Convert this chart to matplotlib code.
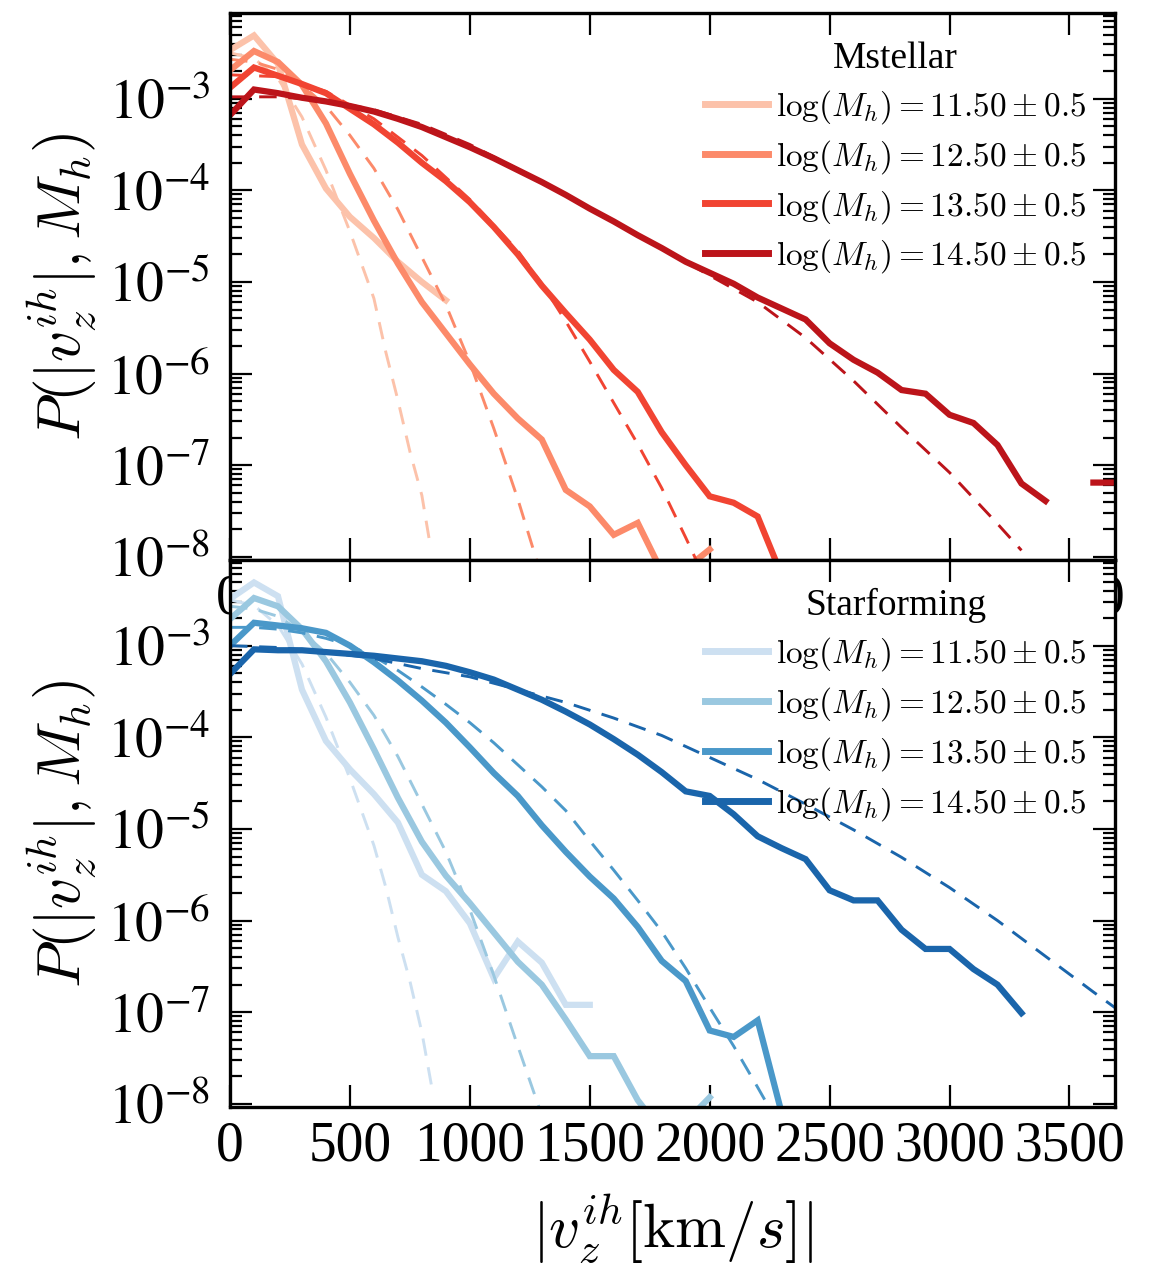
import numpy as np
import matplotlib
matplotlib.use('Agg')
import matplotlib.pyplot as plt
import matplotlib.ticker as ticker

plt.rcParams['font.family'] = ['Liberation Serif', 'DejaVu Serif']
plt.rcParams['mathtext.fontset'] = 'stix'

# ---------------------------------------------------------------
# data: log10 P(|v_z^ih|, M_h), solid = measured, dashed = fits
# solid curves are binned every 100 km/s starting at 0
# ---------------------------------------------------------------
BIN = 100
labels = [r'$\log(M_h) = 11.50 \pm 0.5$', r'$\log(M_h) = 12.50 \pm 0.5$',
          r'$\log(M_h) = 13.50 \pm 0.5$', r'$\log(M_h) = 14.50 \pm 0.5$']

# Mstellar panel
m115 = [-2.47, -2.31, -2.62, -3.50, -3.98, -4.29, -4.52, -4.78, -5.00, -5.20]
m125 = [-2.69, -2.48, -2.60, -2.85, -3.27, -3.82, -4.33, -4.80, -5.22, -5.56,
        -5.90, -6.22, -6.49, -6.72, -7.27, -7.45, -7.76, -7.63, -8.16, -8.13, -7.92]
m135 = [-2.88, -2.66, -2.75, -2.84, -2.94, -3.11, -3.28, -3.48, -3.70, -3.90,
        -4.13, -4.40, -4.70, -5.04, -5.34, -5.63, -5.96, -6.20, -6.64, -7.00,
        -7.34, -7.41, -7.56, -8.20]
m145 = [-3.18, -2.90, -2.94, -2.99, -3.03, -3.08, -3.14, -3.22, -3.31, -3.42,
        -3.53, -3.65, -3.78, -3.91, -4.05, -4.20, -4.34, -4.49, -4.63, -4.78,
        -4.90, -5.02, -5.17, -5.29, -5.41, -5.67, -5.85, -5.99, -6.18, -6.22,
        -6.45, -6.54, -6.78, -7.20, -7.39, np.nan, -7.19, -7.19]

md115_v = [0, 100, 200, 300, 400, 500, 600, 650, 700, 750, 800, 830]
md115 = [-2.50, -2.56, -2.78, -3.20, -3.78, -4.45, -5.18, -5.77, -6.29, -6.85, -7.33, -7.80]
md125_v = [0, 100, 200, 300, 400, 500, 600, 700, 800, 900, 1000, 1100, 1200, 1280]
md125 = [-2.57, -2.60, -2.68, -2.85, -3.08, -3.40, -3.76, -4.21, -4.73, -5.25,
         -5.88, -6.60, -7.37, -8.05]
md135_v = [0, 200, 400, 600, 800, 1000, 1200, 1300, 1400, 1500, 1600, 1700, 1800, 1900, 2000]
md135 = [-2.74, -2.76, -2.92, -3.22, -3.62, -4.10, -4.66, -5.02, -5.43, -5.87,
         -6.32, -6.77, -7.25, -7.79, -8.35]
md145_v = [0, 200, 400, 600, 800, 1000, 1200, 1400, 1600, 1800, 2000, 2200, 2400,
           2600, 2800, 3000, 3200, 3300]
md145 = [-2.98, -2.98, -3.02, -3.12, -3.28, -3.50, -3.77, -4.05, -4.34, -4.63,
         -4.93, -5.22, -5.61, -6.08, -6.59, -7.08, -7.64, -7.93]

# Starforming panel
s115 = [-2.49, -2.31, -2.46, -3.48, -4.04, -4.35, -4.62, -4.93, -5.50, -5.68,
        -6.03, -6.63, -6.23, -6.46, -6.92, -6.92]
s125 = [-2.71, -2.48, -2.57, -2.82, -3.17, -3.62, -4.13, -4.66, -5.14, -5.51,
        -5.81, -6.13, -6.45, -6.70, -7.08, -7.48, -7.48, -7.96, -8.30, -8.20, -7.93]
s135 = [-3.00, -2.75, -2.78, -2.81, -2.86, -3.00, -3.18, -3.38, -3.60, -3.84,
        -4.11, -4.39, -4.64, -4.96, -5.25, -5.52, -5.76, -6.07, -6.44, -6.66,
        -7.20, -7.27, -7.09, -8.10]
s145 = [-3.31, -3.04, -3.05, -3.05, -3.07, -3.09, -3.11, -3.14, -3.17, -3.22,
        -3.29, -3.37, -3.48, -3.59, -3.72, -3.86, -4.02, -4.19, -4.38, -4.59,
        -4.64, -4.84, -5.08, -5.21, -5.33, -5.67, -5.78, -5.78, -6.10, -6.31,
        -6.31, -6.53, -6.70, -7.01]

sd115_v = [0, 100, 200, 300, 400, 500, 600, 650, 700, 750, 800, 840]
sd115 = [-2.50, -2.56, -2.78, -3.20, -3.78, -4.45, -5.18, -5.64, -6.18, -6.66, -7.22, -7.80]
sd125_v = [0, 100, 200, 300, 400, 500, 600, 700, 800, 900, 1000, 1100, 1200, 1290]
sd125 = [-2.57, -2.60, -2.68, -2.85, -3.08, -3.40, -3.76, -4.21, -4.73, -5.25,
         -5.88, -6.60, -7.37, -8.05]
sd135_v = [0, 100, 200, 300, 400, 500, 600, 700, 800, 900, 1000, 1100, 1200, 1300,
           1400, 1500, 1600, 1700, 1800, 1900, 2000, 2100, 2200, 2250]
sd135 = [-2.80, -2.80, -2.82, -2.86, -2.92, -3.00, -3.12, -3.27, -3.45, -3.64,
         -3.84, -4.06, -4.30, -4.54, -4.80, -5.13, -5.45, -5.78, -6.12, -6.52,
         -6.95, -7.37, -7.82, -8.05]
sd145_v = [0, 200, 400, 600, 800, 1000, 1200, 1400, 1600, 1800, 2000, 2200, 2400,
           2600, 2800, 3000, 3200, 3400, 3600, 3700]
sd145 = [-3.00, -3.02, -3.07, -3.14, -3.25, -3.34, -3.48, -3.62, -3.79, -3.98,
         -4.22, -4.46, -4.73, -5.01, -5.31, -5.64, -6.00, -6.39, -6.78, -6.97]

reds = ['#fcc2aa', '#fc8a6a', '#f14432', '#bc141a']
blues = ['#cde0f1', '#9ac8e0', '#4a98c9', '#1a65ab']

panels = [
    ('Mstellar', reds, [m115, m125, m135, m145],
     [(md115_v, md115), (md125_v, md125), (md135_v, md135), (md145_v, md145)]),
    ('Starforming', blues, [s115, s125, s135, s145],
     [(sd115_v, sd115), (sd125_v, sd125), (sd135_v, sd135), (sd145_v, sd145)]),
]

# ---------------------------------------------------------------
# figure
# ---------------------------------------------------------------
W, H = 1149, 1264
fig = plt.figure(figsize=(W / 100, H / 100), dpi=100)
ax_top = fig.add_axes([230 / W, (H - 560) / H, 885 / W, 547 / H])
ax_bot = fig.add_axes([230 / W, (H - 1107) / H, 885 / W, 547 / H])

YLAB = r'$P(|v_z^{ih}|, M_h)$'

for ax, (title, cols, solids, fits) in zip([ax_top, ax_bot], panels):
    handles = []
    for i in range(4):
        y = np.array(solids[i], dtype=float)
        v = np.arange(len(y)) * BIN
        h, = ax.plot(v, 10 ** y, color=cols[i], lw=4.5, solid_joinstyle='miter',
                     label=labels[i])
        fv, fy = fits[i]
        ax.plot(fv, 10 ** np.array(fy), color=cols[i], lw=2.1, ls=(0, (6, 4)))
        handles.append(h)

    ax.set_yscale('log')
    ax.set_xlim(0, 3690)
    ax.set_ylim(10 ** -8.035, 10 ** -2.065)
    ax.xaxis.set_major_locator(ticker.MultipleLocator(500))
    ax.yaxis.set_major_locator(ticker.LogLocator(base=10, numticks=20))
    ax.yaxis.set_minor_locator(ticker.LogLocator(base=10, subs=np.arange(2, 10), numticks=20))
    ax.yaxis.set_major_formatter(ticker.FuncFormatter(
        lambda val, pos: r'$10^{%d}$' % int(round(np.log10(val)))))
    ax.yaxis.set_minor_formatter(ticker.NullFormatter())
    ax.tick_params(which='both', direction='in', top=True, right=True,
                   labelsize=40, width=1.6)
    ax.tick_params(which='major', length=16)
    ax.tick_params(which='minor', length=8.5)
    ax.tick_params(axis='x', pad=10)
    ax.tick_params(axis='y', pad=14)
    for sp in ax.spines.values():
        sp.set_linewidth(2.4)
    ax.set_ylabel(YLAB, fontsize=44, math_fontfamily='cm', labelpad=6)

    leg = ax.legend(handles=handles, loc='upper right', frameon=False, fontsize=24,
                    title=title, title_fontsize=27, handlelength=1.9,
                    handletextpad=0.25, labelspacing=0.36, borderaxespad=0.45)
    for t in leg.get_texts():
        t.set_math_fontfamily('cm')
    for lh in leg.get_lines():
        lh.set_linewidth(5)

ax_bot.set_xlabel(r'$|v_z^{ih}[\mathrm{km}/s]|$', fontsize=44, math_fontfamily='cm',
                  labelpad=14)

fig.savefig('out.png', dpi=100)
